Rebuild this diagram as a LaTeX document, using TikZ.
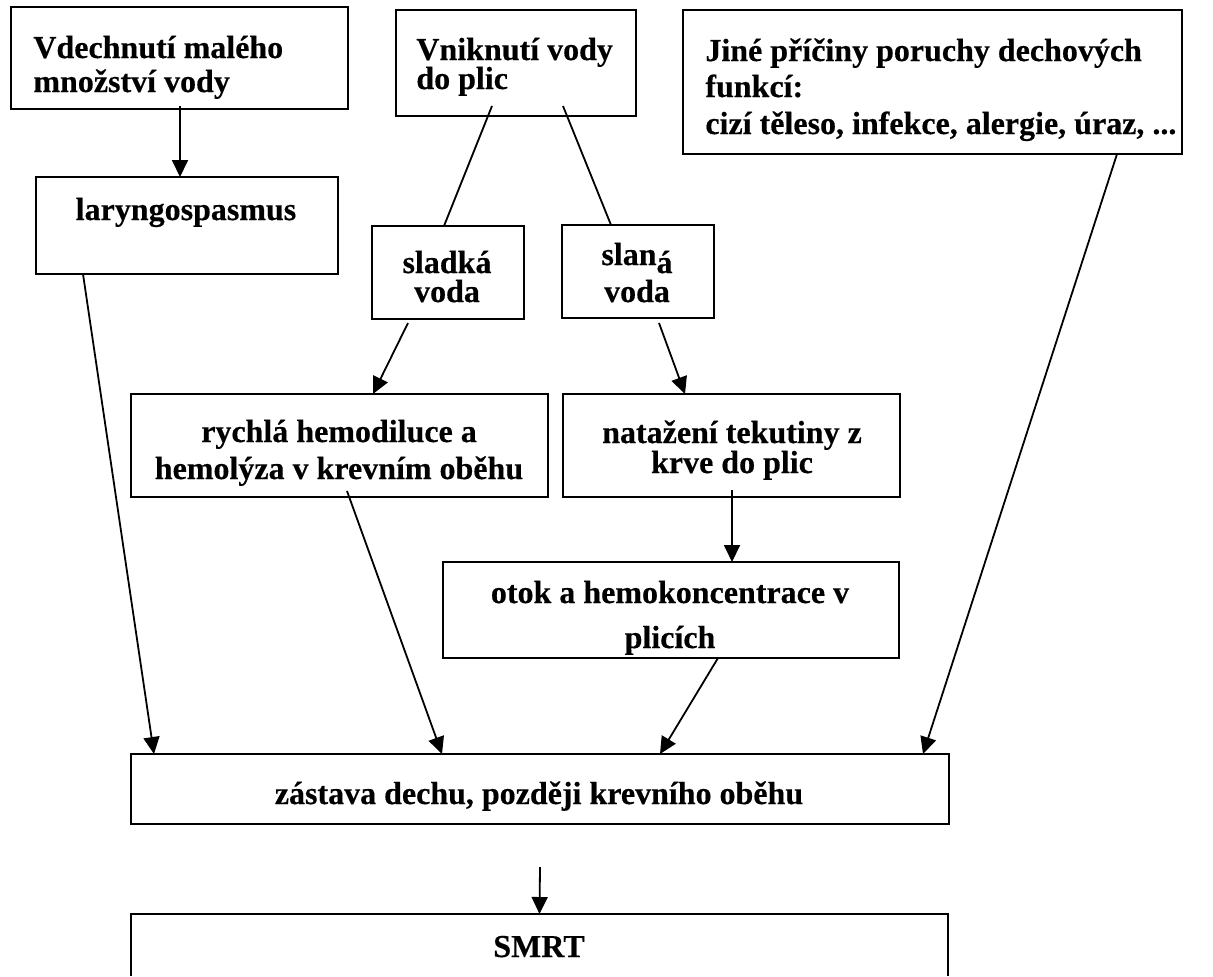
\documentclass[tikz,border=0pt]{standalone}
\usepackage{fontspec}
\setmainfont{Liberation Serif}[BoldFeatures={FakeBold=0.4}]
\usetikzlibrary{arrows.meta,calc}
\begin{document}
\begin{tikzpicture}[x=0.5pt,y=-0.5pt,
  box/.style={draw, line width=0.75pt, inner sep=0pt, outer sep=0pt},
  frame/.style={line width=0.75pt},
  txt/.style={inner sep=0pt, font=\fontsize{16pt}{18pt}\selectfont\bfseries},
  ln/.style={line width=0.9pt},
  arr/.style={ln, -{Triangle[length=8.5pt,width=8pt]}}]
\useasboundingbox (0,0) rectangle (1213,976);
% boxes
\node[box, minimum width=168.5pt, minimum height=51pt]   (A) at (179.5,58) {};
\node[box, minimum width=151pt,   minimum height=48.5pt] (B) at (187,225.5) {};
\node[box, minimum width=120pt,   minimum height=53pt]   (C) at (516,63) {};
\node[box, minimum width=249.5pt, minimum height=72pt]   (D) at (932.5,82) {};
\node[box, minimum width=76pt,    minimum height=46.5pt] (E) at (448,272.5) {};
\node[box, minimum width=76pt,    minimum height=46.5pt] (F) at (638,271.5) {};
\node[box, minimum width=208.5pt, minimum height=51.5pt] (G) at (339.5,445.5) {};
\node[box, minimum width=168.5pt, minimum height=51.5pt] (H) at (731.5,445.5) {};
\node[box, minimum width=228pt,   minimum height=48pt]   (I) at (671,610) {};
\node[box, minimum width=409pt,   minimum height=35pt]   (J) at (540,789) {};
\node[inner sep=0pt, outer sep=0pt, minimum width=408.5pt, minimum height=31pt] (K) at (539.5,945) {};
\draw[frame] (K.south west) -- (K.north west) -- (K.north east) -- (K.south east);
% texts
\node[txt, anchor=base west] (tA1) at (33,58) {Vdechnutí malého};
\node[txt, anchor=base west] (tA2) at (33,92) {množství vody};
\node[txt, anchor=base] (tB) at (186,220) {laryngospasmus};
\node[txt, anchor=base west] (tC1) at (416,60) {Vniknutí vody};
\node[txt, anchor=base west] (tC2) at (416,89) {do plic};
\node[txt, anchor=base west] (tD1) at (705,61) {Jiné příčiny poruchy dechových};
\node[txt, anchor=base west] (tD2) at (705,97) {funkcí:};
\node[txt, anchor=base west] (tD3) at (705,134) {cizí těleso, infekce, alergie, úraz, ...};
\node[txt, anchor=base] (tE1) at (447,273) {sladká};
\node[txt, anchor=base] (tE2) at (447,302) {voda};
\node[txt, anchor=base] (tF1) at (637,265) {slan\raisebox{-4pt}{á}};
\node[txt, anchor=base] (tF2) at (637,302) {voda};
\node[txt, anchor=base] (tG1) at (339,442) {rychlá hemodiluce a};
\node[txt, anchor=base] (tG2) at (339,479) {hemolýza v krevním oběhu};
\node[txt, anchor=base] (tH1) at (732,443) {natažení tekutiny z};
\node[txt, anchor=base] (tH2) at (732,473) {krve do plic};
\node[txt, anchor=base] (tI1) at (670,603) {otok a hemokoncentrace v};
\node[txt, anchor=base] (tI2) at (670,648) {plicích};
\node[txt, anchor=base] (tJ) at (539,804) {zástava dechu, později krevního oběhu};
\node[txt, anchor=base] (tK) at (539,957) {SMRT};
% connectors
\draw[arr] ($(A.south)+(0.5,-3)$) -- ($(B.north)+(-7,0)$);
\draw[ln] ($(C.south)+(-24,-10)$) -- ($(E.north)+(-4,0)$);
\draw[ln] ($(C.south)+(47,-10)$) -- ($(F.north)+(-27,0)$);
\draw[arr] ($(E.south)+(-40,4)$) -- ($(G.north)+(33.5,0)$);
\draw[arr] ($(F.south)+(21,5)$) -- ($(H.north)+(-46.5,0)$);
\draw[arr] ($(H.south)+(0.5,-7)$) -- ($(I.north)+(61,0)$);
\draw[arr] ($(B.south)+(-104,0)$) -- ($(J.north)+(-386,0)$);
\draw[arr] ($(G.south)+(7.5,-6)$) -- ($(J.north)+(-98,0)$);
\draw[arr] ($(I.south)+(47,0)$) -- ($(J.north)+(120,0)$);
\draw[arr] ($(D.south)+(184.5,0)$) -- ($(J.north)+(383,0)$);
\coordinate (jk) at ($(J.south)+(0,43)$);
\draw[arr] (jk) -- (K.north);
\end{tikzpicture}
\end{document}
